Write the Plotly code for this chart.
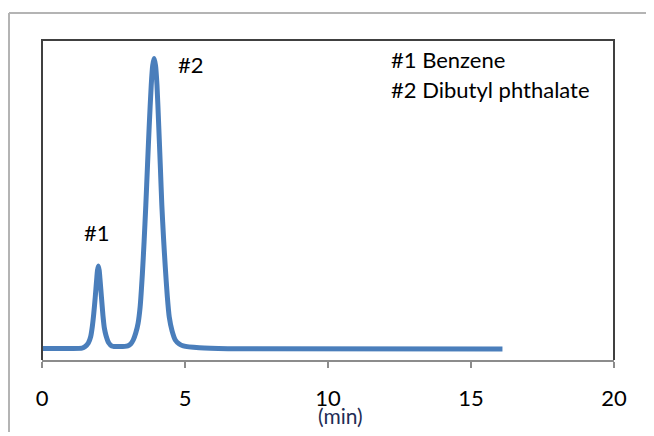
import plotly.graph_objects as go

# Retention time (min) and detector signal (relative units)
time_min = [0.0, 1.0, 1.40, 1.51, 1.62, 1.70, 1.76, 1.81, 1.86, 1.91, 1.94, 1.97, 2.00, 2.03, 2.08,
            2.13, 2.18, 2.24, 2.33, 2.44, 2.70, 3.00, 3.10, 3.19, 3.28, 3.36, 3.43, 3.51, 3.57, 3.63,
            3.69, 3.75, 3.82, 3.87, 3.92, 3.97, 4.02, 4.08, 4.14, 4.19, 4.25, 4.31, 4.38, 4.45, 4.55,
            4.66, 4.80, 4.94, 5.50, 6.50, 16.1]
signal = [3.6, 3.6, 3.7, 4.2, 5.3, 7.2, 10.5, 14.5, 19.5, 25.0, 28.0, 29.4, 28.0, 25.0, 19.5,
          14.0, 10.0, 7.6, 5.4, 4.4, 4.2, 4.4, 5.0, 6.25, 8.5, 11.5, 16.5, 27.0, 37.0, 48.4,
          61.0, 73.4, 86.0, 92.0, 94.2, 92.0, 86.0, 73.4, 60.0, 48.4, 38.0, 29.1, 20.0, 13.4, 9.0,
          6.25, 5.0, 4.4, 3.8, 3.5, 3.4]

x_ticks = [0, 5, 10, 15, 20]
x_tick_labels = ["0", "5", "10", "15", "20"]

peak_labels = ["#1", "#2"]
peak_label_pos = [(1.93, 40.0), (5.2, 92.3)]
legend_lines = ["#1 Benzene", "#2 Dibutyl phthalate"]
x_title = "(min)"

FONT = "Lato"

fig = go.Figure()
fig.add_trace(go.Scatter(
    x=time_min, y=signal, mode="lines",
    line=dict(color="#4a7ebb", width=5, shape="spline", smoothing=0.6),
    hoverinfo="skip", showlegend=False,
))

annotations = []
for lab, (px, py) in zip(peak_labels, peak_label_pos):
    annotations.append(dict(x=px, y=py, xref="x", yref="y", text=lab, showarrow=False,
                            font=dict(family=FONT, size=22, color="#000000"),
                            xanchor="center", yanchor="middle"))
for i, lab in enumerate(legend_lines):
    annotations.append(dict(x=0.606, y=0.94 - i * 0.094, xref="paper", yref="paper", text=lab,
                            showarrow=False, font=dict(family=FONT, size=22, color="#000000"),
                            xanchor="left", yanchor="middle"))
annotations.append(dict(x=10.45, y=-0.174, xref="x", yref="paper", text=x_title, showarrow=False,
                        font=dict(family=FONT, size=21, color="#1f2d55"),
                        xanchor="center", yanchor="middle"))

shapes = [
    # outer chart frame (left and top edges; right and bottom run off the picture)
    dict(type="line", xref="paper", yref="paper", x0=-0.0577, x1=1.08, y0=1.084, y1=1.084,
         line=dict(color="#b4b4b4", width=2), layer="below"),
    dict(type="line", xref="paper", yref="paper", x0=-0.0577, x1=-0.0577, y0=-0.3, y1=1.084,
         line=dict(color="#b4b4b4", width=2), layer="below"),
    # plot area frame (left, top, right)
    dict(type="path", xref="paper", yref="paper", path="M 0,0 L 0,1 L 1,1 L 1,0",
         line=dict(color="#404040", width=2)),
]

fig.update_layout(
    width=644, height=424, autosize=False,
    margin=dict(l=34, r=38, t=32, b=72),
    paper_bgcolor="white", plot_bgcolor="white",
    xaxis=dict(range=[0, 20], tickvals=x_ticks, ticktext=x_tick_labels,
               showgrid=False, zeroline=False, showline=True, linecolor="#8c8c8c", linewidth=1.5,
               ticks="outside", ticklen=6, tickcolor="#8c8c8c", tickwidth=1.5,
               tickfont=dict(family=FONT, size=22, color="#000000"), ticklabelstandoff=12),
    yaxis=dict(range=[0, 100], showgrid=False, zeroline=False, showline=False,
               showticklabels=False, ticks=""),
    annotations=annotations, shapes=shapes,
)

fig.write_html("out.html", config={"displayModeBar": False})
